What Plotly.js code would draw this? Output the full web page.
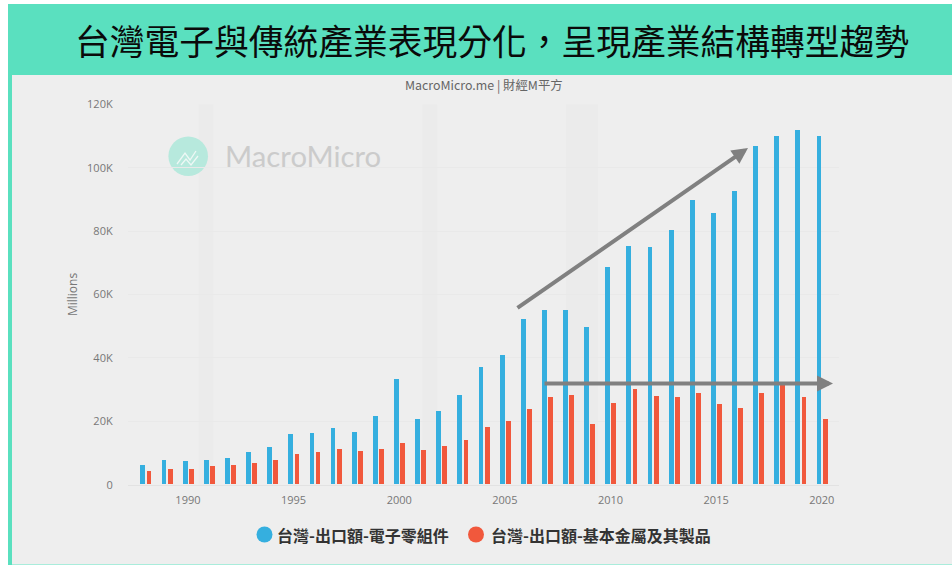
<!DOCTYPE html>
<html><head><meta charset="utf-8">
<script src="https://cdn.plot.ly/plotly-3.0.1.min.js"></script>
<style>html,body{margin:0;padding:0;background:#fff;overflow:hidden}#c{width:952px;height:565px}</style>
</head><body><div id="c"></div>
<script>
const years=[1988,1989,1990,1991,1992,1993,1994,1995,1996,1997,1998,1999,2000,2001,2002,2003,2004,2005,2006,2007,2008,2009,2010,2011,2012,2013,2014,2015,2016,2017,2018,2019,2020];
const electronics=[6200,7800,7500,7800,8400,10100,11900,16000,16200,17800,16500,21600,33300,20600,23000,28100,37100,40900,52200,55000,55000,49600,68700,75200,74900,80200,89800,85500,92400,106700,110000,111900,109800];
const metals=[4100,5000,5000,5700,6200,6800,7800,9700,10100,11300,10600,11300,13100,10900,12200,14100,18200,20000,23800,27500,28200,19000,25700,30000,27900,27500,28700,25300,24100,28700,31400,27500,20600];
const nameElectronics='台灣-出口額-電子零組件';
const nameMetals='台灣-出口額-基本金屬及其製品';
const pageTitle='台灣電子與傳統產業表現分化\uFF0C呈現產業結構轉型趨勢';
const subTitle='MacroMicro.me | 財經M平方';
const yTicks=[0,20000,40000,60000,80000,100000,120000];
const yTickText=['0','20K','40K','60K','80K','100K','120K'];
const xTicks=[1990,1995,2000,2005,2010,2015,2020];
const recessions=[[1990.5,1991.2],[2001.1,2001.8],[2007.9,2009.4]];

const W=952,H=565;
const px=x=>x/W, py=y=>1-y/H;
const cjk='"Noto Sans CJK TC","Noto Sans",sans-serif';
const teal='#5ae0bf', blue='#35afdf', red='#f1583c';

const rect=(x0,y0,x1,y1,c,layer)=>({type:'rect',xref:'paper',yref:'paper',x0:px(x0),x1:px(x1),y0:py(y0),y1:py(y1),fillcolor:c,line:{width:0},layer:layer||'below'});
const dot=(cx,cy,r,c)=>({type:'circle',xref:'paper',yref:'paper',x0:px(cx-r),x1:px(cx+r),y0:py(cy+r),y1:py(cy-r),fillcolor:c,line:{width:0},layer:'below'});

const shapes=[
  rect(12,75,952,565,'#eeeeee'),
  rect(8,4,952,75,teal),
  rect(8,75,12,565,teal),
  rect(12,564,952,565,'#a9ecdb'),
  ...recessions.map(r=>({type:'rect',xref:'x',yref:'paper',x0:r[0],x1:r[1],y0:py(484.7),y1:py(104.3),fillcolor:'#ebebeb',line:{width:0},layer:'below'})),
  dot(188.2,156.2,19.8,'#b7e9dd'),
  {type:'path',xref:'paper',yref:'paper',layer:'below',line:{color:'#eef8f5',width:1.3},
   path:`M ${px(177)} ${py(164)} L ${px(185)} ${py(153)} L ${px(190)} ${py(160)} L ${px(196)} ${py(151)} M ${px(181)} ${py(165)} L ${px(186)} ${py(159)} L ${px(191)} ${py(165)} L ${px(198)} ${py(156)}`},
  dot(264.5,534.5,8,blue),
  dot(476,534.5,8,red)
];

const arrow=(x0,y0,x1,y1)=>({xref:'paper',yref:'paper',axref:'paper',ayref:'paper',x:px(x1),y:py(y1),ax:px(x0),ay:py(y0),text:'',showarrow:true,arrowhead:2,arrowsize:0.8,arrowwidth:4,arrowcolor:'#808080',standoff:0,startstandoff:0});
const legendText=(x,t)=>({xref:'paper',yref:'paper',x:px(x),y:py(535),text:'<b>'+t+'</b>',showarrow:false,xanchor:'left',yanchor:'middle',xshift:-1,font:{family:cjk,size:16,color:'#333333'}});

const annotations=[
  {xref:'paper',yref:'paper',x:px(492),y:py(39.5),text:pageTitle,showarrow:false,xanchor:'center',yanchor:'middle',font:{family:cjk,size:34.75,color:'#0a0a0a'}},
  {xref:'paper',yref:'paper',x:px(483.5),y:py(84.5),text:subTitle,showarrow:false,xanchor:'center',yanchor:'middle',font:{family:cjk,size:12.4,color:'#666666'}},
  {xref:'paper',yref:'paper',x:px(225),y:py(155.5),text:'MacroMicro',showarrow:false,xanchor:'left',yanchor:'middle',xshift:-2,font:{family:'Lato,sans-serif',size:29.3,color:'#cbcbcb'}},
  legendText(276,nameElectronics),
  legendText(490,nameMetals),
  arrow(516,309,748,148),
  arrow(543,383.5,833,383.5)
];

const bar=(name,y,color,offset)=>({type:'bar',name,x:years,y,marker:{color},showlegend:false,width:0.23,offset,hoverinfo:'x+y'});

const data=[
  bar(nameElectronics,electronics,blue,-0.26),
  bar(nameMetals,metals,red,0.03)
];

const layout={
  width:W,height:H,
  margin:{l:0,r:0,t:0,b:0,pad:0},
  paper_bgcolor:'rgba(0,0,0,0)',plot_bgcolor:'rgba(0,0,0,0)',
  font:{family:'"Open Sans","Noto Sans",sans-serif',color:'#777777',size:11},
  showlegend:false,
  bargap:0,
  xaxis:{domain:[px(127.7),px(838.7)],anchor:'y',range:[1987.15,2020.8],tickmode:'array',tickvals:xTicks,ticktext:xTicks.map(String),showgrid:false,zeroline:false,showline:true,linecolor:'#e2e2e2',linewidth:1,ticks:'',tickfont:{size:11,color:'#777777'},ticklabelstandoff:5},
  yaxis:{domain:[py(484.7),py(104.3)],anchor:'x',range:[0,120000],tickmode:'array',tickvals:yTicks,ticktext:yTickText,gridcolor:'#e9e9e9',gridwidth:1,zeroline:false,showline:false,ticks:'',tickfont:{size:11,color:'#777777'},ticklabelstandoff:14,
    title:{text:'Millions',standoff:6,font:{size:12,color:'#777777'}}},
  shapes,annotations
};
Plotly.newPlot('c',data,layout,{displayModeBar:false,responsive:false});
</script></body></html>
